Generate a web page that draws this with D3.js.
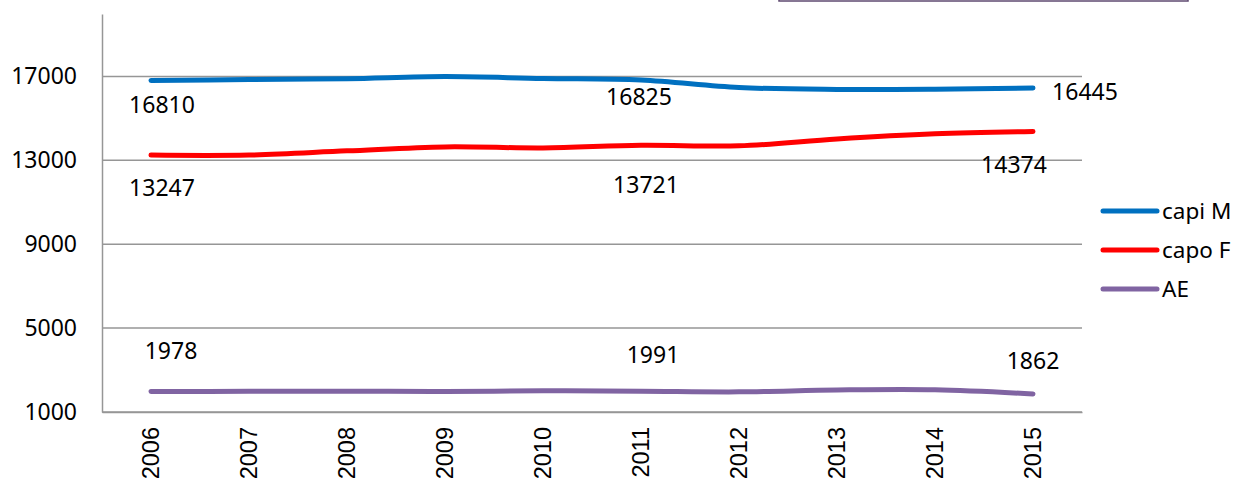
<!DOCTYPE html>
<html>
<head>
<meta charset="utf-8">
<script src="https://cdn.jsdelivr.net/npm/d3@7"></script>
<style>
  body { margin: 0; background: #fff; }
  svg { display: block; }
  text { font-family: "Noto Sans", sans-serif; fill: #000; }
</style>
</head>
<body>
<svg width="1235" height="481"></svg>
<script>
// chart values
var years = ["2006", "2007", "2008", "2009", "2010", "2011", "2012", "2013", "2014", "2015"];
var capiM = [16810, 16850, 16890, 16990, 16900, 16825, 16470, 16380, 16390, 16445];
var capoF = [13247, 13250, 13450, 13640, 13590, 13721, 13690, 14020, 14260, 14374];
var ae    = [1978, 1985, 1995, 1975, 2010, 1991, 1960, 2050, 2060, 1862];
var seriesNames = ["capi M", "capo F", "AE"];
var yTicks = [1000, 5000, 9000, 13000, 17000];
// data labels are shown for these years only
var labelYears = ["2006", "2011", "2015"];

var colors = ["#0070c0", "#ff0000", "#8064a2"];
var seriesData = [capiM, capoF, ae];

// label offsets from the point (px), per series, per labelled year
var labelOffsets = [
  [[11, 25], [-2, 17], [52, 4]],
  [[11, 33], [5, 40], [-19, 33]],
  [[20, -41], [12, -36], [0, -33]]
];

var svg = d3.select("svg");
var margin = {top: 14, left: 102, right: 153, bottom: 69};
var width = 1235 - margin.left - margin.right,
    height = 481 - margin.top - margin.bottom;

var g = svg.append("g").attr("transform", "translate(" + margin.left + "," + margin.top + ")");

var x = d3.scaleBand().domain(years).range([0, width]);
var y = d3.scaleLinear().domain([1000, 19975]).range([height, 0]);

// stray frame edge at the top
svg.append("rect")
    .attr("x", 779).attr("y", -10)
    .attr("width", 409).attr("height", 11)
    .attr("fill", "none")
    .attr("stroke", "#5f4a70")
    .attr("stroke-width", 1.5);

// gridlines
g.selectAll(".grid")
    .data(yTicks)
  .enter().append("line")
    .attr("x1", 0).attr("x2", width)
    .attr("y1", function(d) { return y(d); })
    .attr("y2", function(d) { return y(d); })
    .attr("stroke", "#969696")
    .attr("stroke-width", 1.5);

// y axis
var yAxis = g.append("g")
    .call(d3.axisLeft(y).tickValues(yTicks).tickSize(0).tickPadding(25).tickFormat(d3.format("d")));
yAxis.select(".domain").attr("stroke", "#969696").attr("stroke-width", 1.5);
yAxis.selectAll("text")
    .style("font-family", "'Noto Sans', sans-serif")
    .style("font-size", "23px")
    .attr("fill", "#000");

// x axis
var xAxis = g.append("g")
    .attr("transform", "translate(0," + height + ")")
    .call(d3.axisBottom(x).tickSize(0).tickFormat(""));
xAxis.select(".domain").attr("stroke", "#969696").attr("stroke-width", 1.5);

g.selectAll(".year")
    .data(years)
  .enter().append("text")
    .attr("transform", function(d) {
      return "translate(" + (x(d) + x.bandwidth() / 2) + "," + (height + 15) + ") rotate(-90)";
    })
    .attr("text-anchor", "end")
    .attr("dy", "0.35em")
    .style("font-family", "'Liberation Sans', Arial, sans-serif")
    .style("font-size", "23.5px")
    .text(function(d) { return d; });

var line = d3.line()
    .x(function(d, i) { return x(years[i]) + x.bandwidth() / 2; })
    .y(function(d) { return y(d); })
    .curve(d3.curveCatmullRom.alpha(0.5));

seriesData.forEach(function(s, k) {
  g.append("path")
      .datum(s)
      .attr("d", line)
      .attr("fill", "none")
      .attr("stroke", colors[k])
      .attr("stroke-width", 5)
      .attr("stroke-linecap", "round")
      .attr("stroke-linejoin", "round");

  labelYears.forEach(function(yr, j) {
    var i = years.indexOf(yr);
    var off = labelOffsets[k][j];
    g.append("text")
        .attr("x", x(yr) + x.bandwidth() / 2 + off[0])
        .attr("y", y(s[i]) + off[1])
        .attr("dy", "0.35em")
        .attr("text-anchor", "middle")
        .style("font-size", "23px")
        .text(d3.format("d")(s[i]));
  });
});

// legend
var legend = svg.append("g").attr("transform", "translate(1103,211)");
seriesNames.forEach(function(name, k) {
  var row = legend.append("g").attr("transform", "translate(0," + (k * 39) + ")");
  row.append("line")
      .attr("x1", 0).attr("x2", 54)
      .attr("stroke", colors[k])
      .attr("stroke-width", 5)
      .attr("stroke-linecap", "round");
  row.append("text")
      .attr("x", 59)
      .attr("dy", "0.35em")
      .style("font-size", "22.5px")
      .text(name);
});
</script>
</body>
</html>
